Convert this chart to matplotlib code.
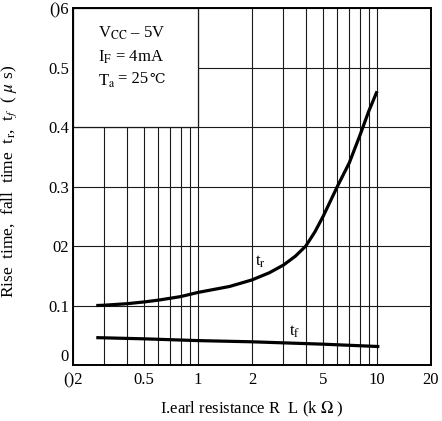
import matplotlib
matplotlib.use("Agg")
import matplotlib.pyplot as plt
from matplotlib.patches import Rectangle
from matplotlib.ticker import FixedLocator, NullFormatter

plt.rcParams["font.family"] = ["Liberation Serif", "DejaVu Serif"]
plt.rcParams["mathtext.fontset"] = "stix"

# load resistance (kOhm) vs rise / fall time (us)
rl_rise = [0.27, 0.3, 0.4, 0.5, 0.6, 0.8, 1.0, 1.5, 2.0, 2.5, 3.0, 3.5, 4.0, 4.5, 5.0, 6.0, 7.0, 8.0, 9.0, 10.0]
t_rise = [0.100, 0.1005, 0.103, 0.106, 0.109, 0.115, 0.122, 0.132, 0.143, 0.155, 0.168, 0.183, 0.200, 0.224, 0.250, 0.300, 0.340, 0.385, 0.427, 0.460]
rl_fall = [0.27, 0.5, 1.0, 2.0, 5.0, 10.3]
t_fall = [0.046, 0.044, 0.041, 0.039, 0.035, 0.031]

x_ticks = [0.2, 0.5, 1, 2, 5, 10, 20]
x_labels = ["()2", "0.5", "1", "2", "5", "10", "20"]
x_minor = [0.3, 0.4, 0.6, 0.7, 0.8, 0.9, 3, 4, 6, 7, 8, 9]
y_ticks = [0, 0.1, 0.2, 0.3, 0.4, 0.5, 0.6]
y_labels = ["0", "0.1", "02", "0.3", "0.4", "0.5", "()6"]

fig = plt.figure(figsize=(4.42, 4.21), dpi=100)
ax = fig.add_axes([0.165, 0.133, 0.81, 0.848])
ax.set_xscale("log")
ax.set_xlim(0.2, 20)
ax.set_ylim(0, 0.6)

ax.xaxis.set_major_locator(FixedLocator(x_ticks))
ax.set_xticklabels(x_labels)
ax.xaxis.set_minor_locator(FixedLocator(x_minor))
ax.xaxis.set_minor_formatter(NullFormatter())
ax.set_yticks(y_ticks)
ax.set_yticklabels(y_labels)
ax.tick_params(which="both", direction="in", length=0, labelsize=12)
ax.tick_params(axis="y", pad=3)
ax.tick_params(axis="x", pad=5)
ax.get_yticklabels()[0].set_va("bottom")

ax.set_axisbelow(True)
ax.grid(which="both", color="#1a1a1a", linewidth=0.8)
for s in ax.spines.values():
    s.set_linewidth(1.4)

# condition box hides the grid in the upper-left corner
ax.add_patch(Rectangle((0.2, 0.4), 0.8, 0.2, facecolor="white", edgecolor="#1a1a1a",
                       linewidth=0.9, zorder=1))
ax.text(0.07, 0.93, r"V$_{\rm CC}$ – 5V", transform=ax.transAxes, fontsize=12,
        va="center", ha="left", zorder=3)
ax.text(0.07, 0.862, r"I$_{\rm F}$ = 4mA", transform=ax.transAxes, fontsize=12,
        va="center", ha="left", zorder=3)
t_a = ax.text(0.07, 0.794, r"T$_{\rm a}$", transform=ax.transAxes, fontsize=12,
              va="center", ha="left", zorder=3)
t_25 = ax.annotate("= 25", xy=(1, 0.62), xycoords=t_a, xytext=(2, 0),
                   textcoords="offset points", fontsize=12, va="center", ha="left", zorder=3)
ax.annotate("℃", xy=(1, 0.5), xycoords=t_25, xytext=(0.5, 0), textcoords="offset points",
            fontsize=10, va="center", ha="left", zorder=3)

ax.plot(rl_rise, t_rise, color="black", linewidth=2.3, zorder=2, solid_capstyle="butt")
ax.plot(rl_fall, t_fall, color="black", linewidth=2.3, zorder=2, solid_capstyle="butt")
ax.text(2.22, 0.173, r"t$_{\rm r}$", fontsize=12, ha="center", va="center", zorder=3)
ax.text(3.45, 0.055, r"t$_{\rm f}$", fontsize=12, ha="center", va="center", zorder=3)

ax.set_xlabel(r"I.earl resistance R  L (k $\Omega$ )", fontsize=12)
ax.xaxis.set_label_coords(0.5, -0.098)
ax.set_ylabel(r"Rise  time,  fall  time  t$_{\rm r}$,  t$_f$  ( $\mu$ s)", fontsize=12.5)
ax.yaxis.set_label_coords(-0.15, 0.513)

fig.savefig("out.png", dpi=100)
